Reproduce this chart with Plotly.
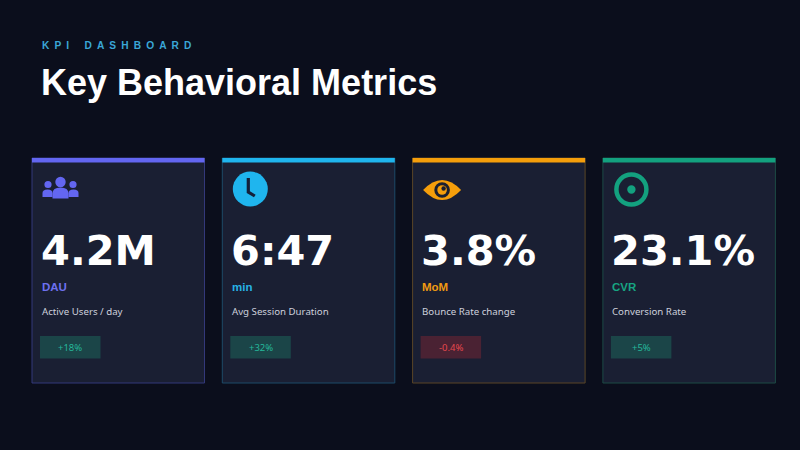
import plotly.graph_objects as go

# ---- data ----
kpi_values = ["4.2M", "6:47", "3.8%", "23.1%"]
kpi_units = ["DAU", "min", "MoM", "CVR"]
kpi_labels = ["Active Users / day", "Avg Session Duration", "Bounce Rate change", "Conversion Rate"]
kpi_changes = ["+18%", "+32%", "-0.4%", "+5%"]
kpi_icons = ["users", "clock", "eye", "target"]

# ---- style ----
BG = "#0b0e1c"
CARD = "#1a1f33"
accents = ["#6366f1", "#1fb5ee", "#f59e0b", "#13a17f"]
unit_colors = ["#6d70ef", "#27b2e6", "#f09a12", "#17a482"]
borders = ["#33387a", "#1d4a68", "#5a4526", "#1c4a45"]
W, H = 800, 450
card_x0 = 32
card_step = 190.3
card_w = 172.5
card_top, card_bot = 158, 383

fig = go.Figure()
shapes = []
annotations = []

def circle(cx, cy, r, fill, line_color=None, line_width=0):
    return dict(type="circle", xref="x", yref="y", x0=cx - r, x1=cx + r, y0=cy - r, y1=cy + r,
                fillcolor=fill, line=dict(color=line_color or fill, width=line_width), layer="above")

def path(d, fill=None, line_color=None, line_width=0):
    s = dict(type="path", xref="x", yref="y", path=d, layer="above",
             line=dict(color=line_color or "rgba(0,0,0,0)", width=line_width))
    if fill:
        s["fillcolor"] = fill
    return s

for i in range(len(kpi_values)):
    x0 = card_x0 + i * card_step
    x1 = x0 + card_w
    # card body
    shapes.append(dict(type="rect", xref="x", yref="y", x0=x0, x1=x1, y0=card_top, y1=card_bot,
                       fillcolor=CARD, line=dict(color=borders[i], width=1), layer="below"))
    # accent bar
    shapes.append(dict(type="rect", xref="x", yref="y", x0=x0, x1=x1, y0=card_top, y1=card_top + 4.5,
                       fillcolor=accents[i], line=dict(width=0), layer="below"))
    c = accents[i]
    cx, cy = x0 + 28.5, 189
    kind = kpi_icons[i]
    if kind == "users":
        shapes.append(circle(cx - 12.5, cy - 4.5, 3.6, c))
        shapes.append(circle(cx + 12.5, cy - 4.5, 3.6, c))
        shapes.append(path(f"M{cx-18},{cy+8} L{cx-18},{cy+4} Q{cx-18},{cy+0.5} {cx-13},{cy+0.5} "
                           f"Q{cx-8},{cy+0.5} {cx-8},{cy+4} L{cx-8},{cy+8} Z", fill=c))
        shapes.append(path(f"M{cx+8},{cy+8} L{cx+8},{cy+4} Q{cx+8},{cy+0.5} {cx+13},{cy+0.5} "
                           f"Q{cx+18},{cy+0.5} {cx+18},{cy+4} L{cx+18},{cy+8} Z", fill=c))
        shapes.append(circle(cx, cy - 7, 5.2, c))
        shapes.append(path(f"M{cx-8},{cy+9.5} L{cx-8},{cy+4.5} Q{cx-8},{cy-1.5} {cx},{cy-1.5} "
                           f"Q{cx+8},{cy-1.5} {cx+8},{cy+4.5} L{cx+8},{cy+9.5} Z", fill=c))
    elif kind == "clock":
        shapes.append(circle(cx - 0.5, cy, 17.5, c))
        shapes.append(path(f"M{cx-2.5},{cy-11} L{cx-2.5},{cy+3} L{cx+4},{cy+7}",
                           line_color="#14203a", line_width=3.2))
    elif kind == "eye":
        ex = cx + 1
        shapes.append(path(f"M{ex-19},{cy+1} Q{ex},{cy-19} {ex+19},{cy+1} Q{ex},{cy+21} {ex-19},{cy+1} Z", fill=c))
        shapes.append(circle(ex, cy + 1, 7.8, "#1b2030"))
        shapes.append(circle(ex, cy + 1, 4.8, c))
        shapes.append(circle(ex + 1.5, cy - 0.5, 2.2, "#1b2030"))
    elif kind == "target":
        shapes.append(dict(type="circle", xref="x", yref="y", x0=cx - 15, x1=cx + 15, y0=cy - 14.5, y1=cy + 15.5,
                           line=dict(color=c, width=4.5), fillcolor="rgba(0,0,0,0)", layer="above"))
        shapes.append(circle(cx, cy + 0.5, 4.2, c))

    # big number
    annotations.append(dict(x=x0 + 6.5, y=250.5, xref="x", yref="y", xanchor="left", yanchor="middle",
                            text=f"<b>{kpi_values[i]}</b>", showarrow=False,
                            font=dict(family="DejaVu Sans", size=41.5, color="#ffffff")))
    # unit
    annotations.append(dict(x=x0 + 7.5, y=286.5, xref="x", yref="y", xanchor="left", yanchor="middle",
                            text=f"<b>{kpi_units[i]}</b>", showarrow=False,
                            font=dict(family="Liberation Sans", size=11.5, color=unit_colors[i])))
    # description
    annotations.append(dict(x=x0 + 7.5, y=311.5, xref="x", yref="y", xanchor="left", yanchor="middle",
                            text=kpi_labels[i], showarrow=False,
                            font=dict(family="Noto Sans", size=9.7, color="#cdd0dc")))
    # change badge
    neg = kpi_changes[i].startswith("-")
    shapes.append(dict(type="rect", xref="x", yref="y", x0=x0 + 8, x1=x0 + 68.5, y0=336, y1=358.5,
                       fillcolor="#4a2233" if neg else "#1b4548", line=dict(width=0), layer="above"))
    annotations.append(dict(x=x0 + 38.3, y=347.3, xref="x", yref="y", xanchor="center", yanchor="middle",
                            text=kpi_changes[i], showarrow=False,
                            font=dict(family="Noto Sans", size=9.5, color="#e5484d" if neg else "#25b79a")))

# header
kicker = "K\u2002P\u2002I\u2002\u2002\u2002D\u2002A\u2002S\u2002H\u2002B\u2002O\u2002A\u2002R\u2002D"
annotations.append(dict(x=40, y=45, xref="x", yref="y", xanchor="left", yanchor="middle",
                        text=f"<b>{kicker}</b>", showarrow=False,
                        font=dict(family="Liberation Sans", size=10.2, color="#3aa6d6")))
annotations.append(dict(x=39, y=82, xref="x", yref="y", xanchor="left", yanchor="middle",
                        text="<b>Key Behavioral Metrics</b>", showarrow=False,
                        font=dict(family="Liberation Sans", size=36, color="#ffffff")))

fig.update_layout(
    width=W, height=H, margin=dict(l=0, r=0, t=0, b=0),
    paper_bgcolor=BG, plot_bgcolor=BG,
    xaxis=dict(range=[0, W], visible=False, fixedrange=True),
    yaxis=dict(range=[H, 0], visible=False, fixedrange=True),
    shapes=shapes, annotations=annotations, showlegend=False,
)
fig.write_html(
    "out.html",
    config={"displayModeBar": False},
    post_script="document.body.style.margin='0';document.body.style.overflow='hidden';"
                "document.body.style.background='#0b0e1c';",
)
